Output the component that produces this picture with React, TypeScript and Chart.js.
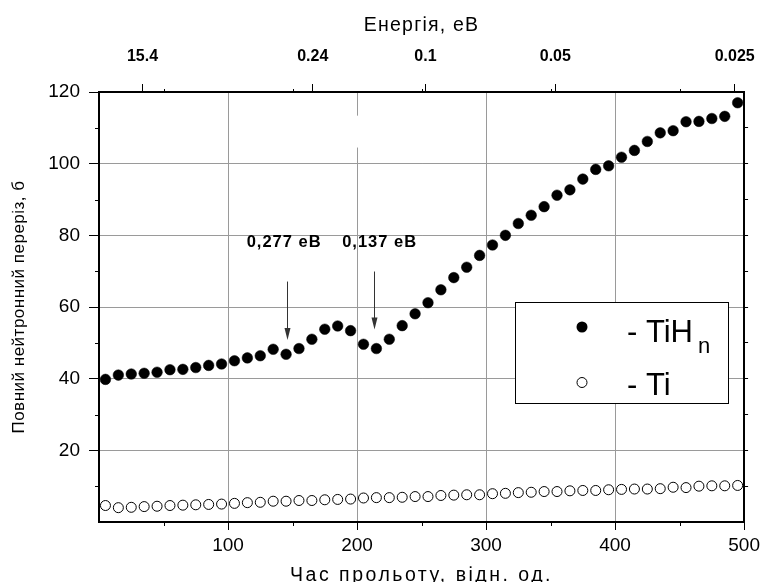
import React, { useEffect, useRef } from 'react';
import { Chart, registerables } from 'chart.js';

Chart.register(...registerables);

// ---- data ----
const timeX = [5, 15, 25, 35, 45, 55, 65, 75, 85, 95, 105, 115, 125, 135, 145, 155, 165, 175, 185, 195, 205, 215, 225, 235, 245, 255, 265, 275, 285, 295, 305, 315, 325, 335, 345, 355, 365, 375, 385, 395, 405, 415, 425, 435, 445, 455, 465, 475, 485, 495];
const tihnValues = [39.8, 41.0, 41.3, 41.5, 41.8, 42.5, 42.6, 43.1, 43.7, 44.1, 45.0, 45.8, 46.4, 48.2, 46.8, 48.4, 51.0, 53.8, 54.7, 53.4, 49.6, 48.4, 51.0, 54.8, 58.1, 61.2, 64.8, 68.2, 71.1, 74.4, 77.3, 80.0, 83.3, 85.6, 88.0, 91.2, 92.7, 95.7, 98.4, 99.4, 101.8, 103.7, 106.2, 108.6, 109.2, 111.7, 111.8, 112.6, 113.2, 117.0];
const tiValues = [4.6, 4.0, 4.1, 4.3, 4.4, 4.6, 4.7, 4.8, 4.9, 5.0, 5.2, 5.4, 5.5, 5.8, 5.8, 6.0, 6.0, 6.2, 6.3, 6.4, 6.7, 6.8, 6.8, 6.9, 7.1, 7.1, 7.4, 7.5, 7.6, 7.6, 7.9, 8.0, 8.2, 8.3, 8.5, 8.5, 8.7, 8.8, 8.8, 9.0, 9.1, 9.2, 9.2, 9.3, 9.7, 9.6, 10.0, 10.1, 10.1, 10.2];

const energyTickPositions = [33.7, 165.7, 253, 353.7, 492.7];
const energyTickLabels = ['15.4', '0.24', '0.1', '0.05', '0.025'];

const annotationLabels = ['0,277 еВ', '0,137 еВ'];
const annotationLabelX = [143.5, 217.5];
const annotationLabelY = [78, 78];
const arrowX = [145.6, 213.5];
const arrowFromY = [67.1, 69.9];
const arrowToY = [50.8, 53.7];

const legendNames = ['TiH', 'Ti'];
const legendSub = ['n', ''];

const xTitle = 'Час прольоту, відн. од.';
const xTopTitle = 'Енергія, еВ';
const yTitle = 'Повний нейтронний переріз, б';

const FONT = "'Liberation Sans', Arial, sans-serif";

const overlayPlugin = {
  id: 'overlay',
  beforeDatasetsDraw(chart: any) {
    const { ctx, scales } = chart;
    const x = scales.x, y = scales.y;
    ctx.save();
    ctx.fillStyle = '#fff';
    const px = x.getPixelForValue(200);
    const t = y.getPixelForValue(113.4);
    const b = y.getPixelForValue(104.5);
    ctx.fillRect(px - 2, t, 4, b - t);
    ctx.restore();
  },
  afterDraw(chart: any) {
    const { ctx, chartArea, scales } = chart;
    const x = scales.x, y = scales.y;
    const { left, right, top, bottom } = chartArea;
    ctx.save();
    // minor ticks
    ctx.strokeStyle = '#000';
    ctx.lineWidth = 1;
    ctx.beginPath();
    for (let v = 10; v < 120; v += 20) {
      const py = Math.round(y.getPixelForValue(v)) + 0.5;
      ctx.moveTo(left, py);
      ctx.lineTo(left - 4, py);
    }
    for (let v = 50; v < 500; v += 100) {
      const px = Math.round(x.getPixelForValue(v)) + 0.5;
      ctx.moveTo(px, bottom);
      ctx.lineTo(px, bottom + 4);
      ctx.moveTo(px, top);
      ctx.lineTo(px, top - 3);
    }
    ctx.stroke();

    // titles
    ctx.fillStyle = '#000';
    ctx.textAlign = 'center';
    ctx.textBaseline = 'alphabetic';
    ctx.font = `19.5px ${FONT}`;
    (ctx as any).letterSpacing = '2.5px';
    ctx.fillText(xTitle, (left + right) / 2, 580.5);
    (ctx as any).letterSpacing = '1.2px';
    ctx.fillText(xTopTitle, (left + right) / 2, 31);
    ctx.save();
    ctx.translate(24, (top + bottom) / 2);
    ctx.rotate(-Math.PI / 2);
    ctx.font = `17px ${FONT}`;
    (ctx as any).letterSpacing = '0.5px';
    ctx.fillText(yTitle, 0, 0);
    ctx.restore();

    // annotations
    ctx.font = `bold 16.5px ${FONT}`;
    (ctx as any).letterSpacing = '1px';
    ctx.textBaseline = 'middle';
    annotationLabels.forEach((lab, i) => {
      ctx.fillText(lab, x.getPixelForValue(annotationLabelX[i]), y.getPixelForValue(annotationLabelY[i]));
    });
    (ctx as any).letterSpacing = '0px';
    ctx.strokeStyle = '#333';
    ctx.fillStyle = '#333';
    arrowX.forEach((ax, i) => {
      const px = Math.round(x.getPixelForValue(ax)) + 0.5;
      const y1 = y.getPixelForValue(arrowFromY[i]);
      const y2 = y.getPixelForValue(arrowToY[i]);
      ctx.beginPath();
      ctx.moveTo(px, y1);
      ctx.lineTo(px, y2 - 8);
      ctx.stroke();
      ctx.beginPath();
      ctx.moveTo(px, y2);
      ctx.lineTo(px - 3, y2 - 12);
      ctx.lineTo(px + 3, y2 - 12);
      ctx.closePath();
      ctx.fill();
    });

    // legend
    const lx = 515, ly = 302, lw = 213, lh = 101;
    ctx.fillStyle = '#fff';
    ctx.fillRect(lx, ly, lw, lh);
    ctx.strokeStyle = '#000';
    ctx.lineWidth = 1;
    ctx.strokeRect(lx + 0.5, ly + 0.5, lw, lh);
    ctx.beginPath();
    ctx.arc(582, 327, 5.5, 0, Math.PI * 2);
    ctx.fillStyle = '#000';
    ctx.fill();
    ctx.beginPath();
    ctx.arc(582, 382.5, 5, 0, Math.PI * 2);
    ctx.fillStyle = '#fff';
    ctx.fill();
    ctx.strokeStyle = '#000';
    ctx.stroke();
    ctx.fillStyle = '#000';
    ctx.textAlign = 'left';
    ctx.textBaseline = 'alphabetic';
    ctx.font = `31px ${FONT}`;
    const t1 = '- ' + legendNames[0];
    ctx.fillText(t1, 627, 341.5);
    const w1 = ctx.measureText(t1).width;
    ctx.font = `22px ${FONT}`;
    ctx.fillText(legendSub[0], 627 + w1 + 5, 353);
    ctx.font = `31px ${FONT}`;
    ctx.fillText('- ' + legendNames[1], 627, 394.5);
    ctx.restore();
  },
};

export default function App() {
  const ref = useRef<HTMLCanvasElement>(null);
  useEffect(() => {
    Chart.defaults.font.family = FONT;
    Chart.defaults.color = '#000';
    const gridColorX = (c: any) => {
      const v = c.tick?.value;
      return v > 0 && v < 500 ? '#9a9a9a' : 'rgba(0,0,0,0)';
    };
    const gridColorY = (c: any) => {
      const v = c.tick?.value;
      return v > 0 && v < 120 ? '#9a9a9a' : 'rgba(0,0,0,0)';
    };
    const chart = new Chart(ref.current as HTMLCanvasElement, {
      type: 'scatter',
      data: {
        datasets: [
          {
            label: 'TiHn',
            data: timeX.map((t, i) => ({ x: t, y: tihnValues[i] })),
            pointStyle: 'circle',
            pointRadius: 5.3,
            pointBackgroundColor: '#000',
            pointBorderColor: '#000',
            pointBorderWidth: 0.5,
            showLine: false,
            xAxisID: 'x',
            yAxisID: 'y',
          },
          {
            label: 'Ti',
            data: timeX.map((t, i) => ({ x: t, y: tiValues[i] })),
            pointStyle: 'circle',
            pointRadius: 5,
            pointBackgroundColor: '#fff',
            pointBorderColor: '#000',
            pointBorderWidth: 1,
            showLine: false,
            xAxisID: 'x',
            yAxisID: 'y',
          },
        ],
      },
      options: {
        animation: false,
        responsive: false,
        devicePixelRatio: 1,
        layout: { padding: 0, autoPadding: false },
        plugins: { legend: { display: false }, tooltip: { enabled: false } },
        scales: {
          x: {
            type: 'linear',
            position: 'bottom',
            min: 0,
            max: 500,
            afterFit: (s: any) => { s.height = 60; },
            ticks: {
              stepSize: 100,
              padding: 4,
              maxRotation: 0,
              autoSkip: false,
              font: { size: 19 },
              callback: (v: any) => (v === 0 ? '' : String(v)),
            },
            grid: {
              color: gridColorX,
              lineWidth: 1,
              tickLength: 8,
              tickColor: (c: any) => (c.tick?.value === 0 ? 'rgba(0,0,0,0)' : '#000'),
            },
            border: { display: true, color: '#000', width: 2 },
          },
          xTop: {
            type: 'linear',
            position: 'top',
            min: 0,
            max: 500,
            afterFit: (s: any) => { s.height = 92; },
            afterBuildTicks: (s: any) => {
              s.ticks = energyTickPositions.map((v) => ({ value: v }));
            },
            ticks: {
              padding: 18,
              maxRotation: 0,
              autoSkip: false,
              font: { size: 16, weight: 'bold' },
              callback: (_v: any, i: number) => energyTickLabels[i],
            },
            grid: { drawOnChartArea: false, tickLength: 8, tickColor: '#000' },
            border: { display: true, color: '#000', width: 2 },
          },
          y: {
            type: 'linear',
            position: 'left',
            min: 0,
            max: 120,
            afterFit: (s: any) => { s.width = 99; },
            ticks: {
              stepSize: 20,
              padding: 9,
              font: { size: 19 },
              callback: (v: any) => (v === 0 ? '' : String(v)),
            },
            grid: {
              color: gridColorY,
              lineWidth: 1,
              tickLength: 10,
              tickColor: (c: any) => (c.tick?.value === 0 ? 'rgba(0,0,0,0)' : '#000'),
            },
            border: { display: true, color: '#000', width: 2 },
          },
          yRight: {
            type: 'linear',
            position: 'right',
            min: 0,
            max: 120,
            afterFit: (s: any) => { s.width = 21; },
            ticks: { stepSize: 10, display: false },
            grid: {
              drawOnChartArea: false,
              tickLength: 4,
              tickColor: (c: any) => {
                const v = c.tick?.value;
                return v > 0 && v < 120 ? '#000' : 'rgba(0,0,0,0)';
              },
            },
            border: { display: true, color: '#000', width: 2 },
          },
        },
      },
      plugins: [overlayPlugin],
    } as any);
    return () => chart.destroy();
  }, []);
  return (
    <div style={{ position: 'fixed', left: 0, top: 0, width: 773, height: 582, background: '#fff' }}>
      <canvas ref={ref} width={773} height={582} style={{ display: 'block', width: 773, height: 582 }} />
    </div>
  );
}
